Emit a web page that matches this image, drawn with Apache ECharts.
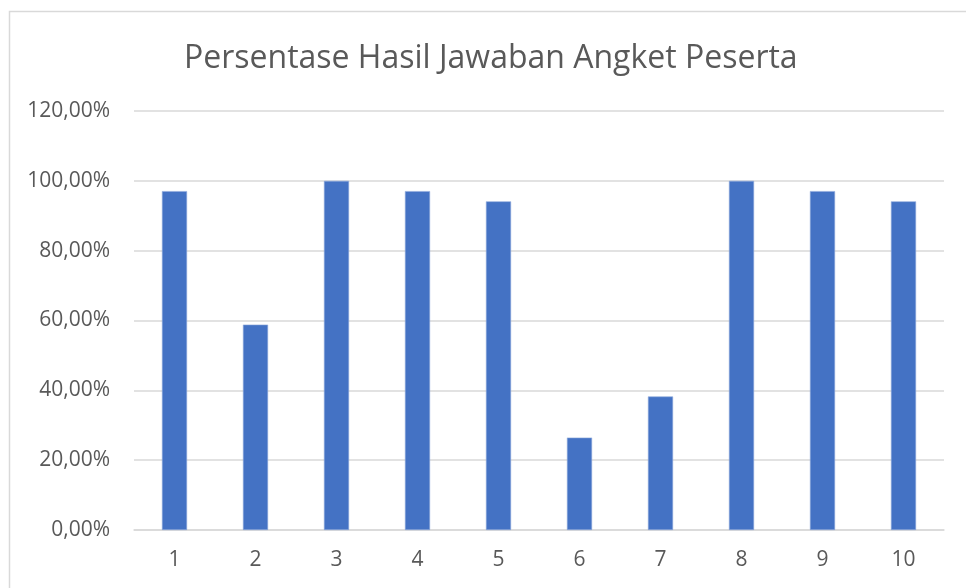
<!DOCTYPE html>
<html>
<head>
<meta charset="utf-8">
<script src="https://cdn.jsdelivr.net/npm/echarts@6/dist/echarts.min.js"></script>
<style>
html,body{margin:0;padding:0;background:#fff;}
#main{width:966px;height:588px;}
</style>
</head>
<body>
<div id="main"></div>
<script>
const categories = ['1','2','3','4','5','6','7','8','9','10'];
const values = [97.06, 58.82, 100, 97.06, 94.12, 26.47, 38.24, 100, 97.06, 94.12];
const yTicks = {min: 0, max: 120, interval: 20};
const titleText = 'Persentase Hasil Jawaban Angket Peserta';

const chart = echarts.init(document.getElementById('main'), null, {renderer: 'canvas'});
chart.setOption({
  animation: false,
  backgroundColor: '#fff',
  graphic: [{
    type: 'rect',
    shape: {x: 9.5, y: 11.5, width: 1200, height: 1200},
    style: {fill: 'none', stroke: '#d9d9d9', lineWidth: 1.5},
    silent: true, z: -1
  }],
  title: {
    text: titleText,
    left: 179,
    top: 38,
    textStyle: {fontFamily: 'Open Sans', fontSize: 32, fontWeight: 'normal', color: '#595959'}
  },
  grid: {left: 134, right: 22, top: 111, bottom: 58, containLabel: false},
  xAxis: {
    type: 'category',
    data: categories,
    axisLine: {show: true, lineStyle: {color: '#d9d9d9', width: 1.5}},
    axisTick: {show: false},
    axisLabel: {color: '#595959', fontFamily: 'Open Sans', fontSize: 21, margin: 20}
  },
  yAxis: {
    type: 'value',
    min: yTicks.min, max: yTicks.max, interval: yTicks.interval,
    axisLine: {show: false},
    axisTick: {show: false},
    splitLine: {lineStyle: {color: '#d9d9d9', width: 1.5}},
    axisLabel: {
      color: '#595959', fontFamily: 'Open Sans', fontSize: 21, margin: 24,
      formatter: v => v.toFixed(2).replace('.', ',') + '%'
    }
  },
  series: [{
    type: 'bar',
    data: values,
    barWidth: '31%',
    itemStyle: {color: '#4472C4', borderColor: '#8fa9dc', borderWidth: 0.6}
  }]
});
</script>
</body>
</html>
